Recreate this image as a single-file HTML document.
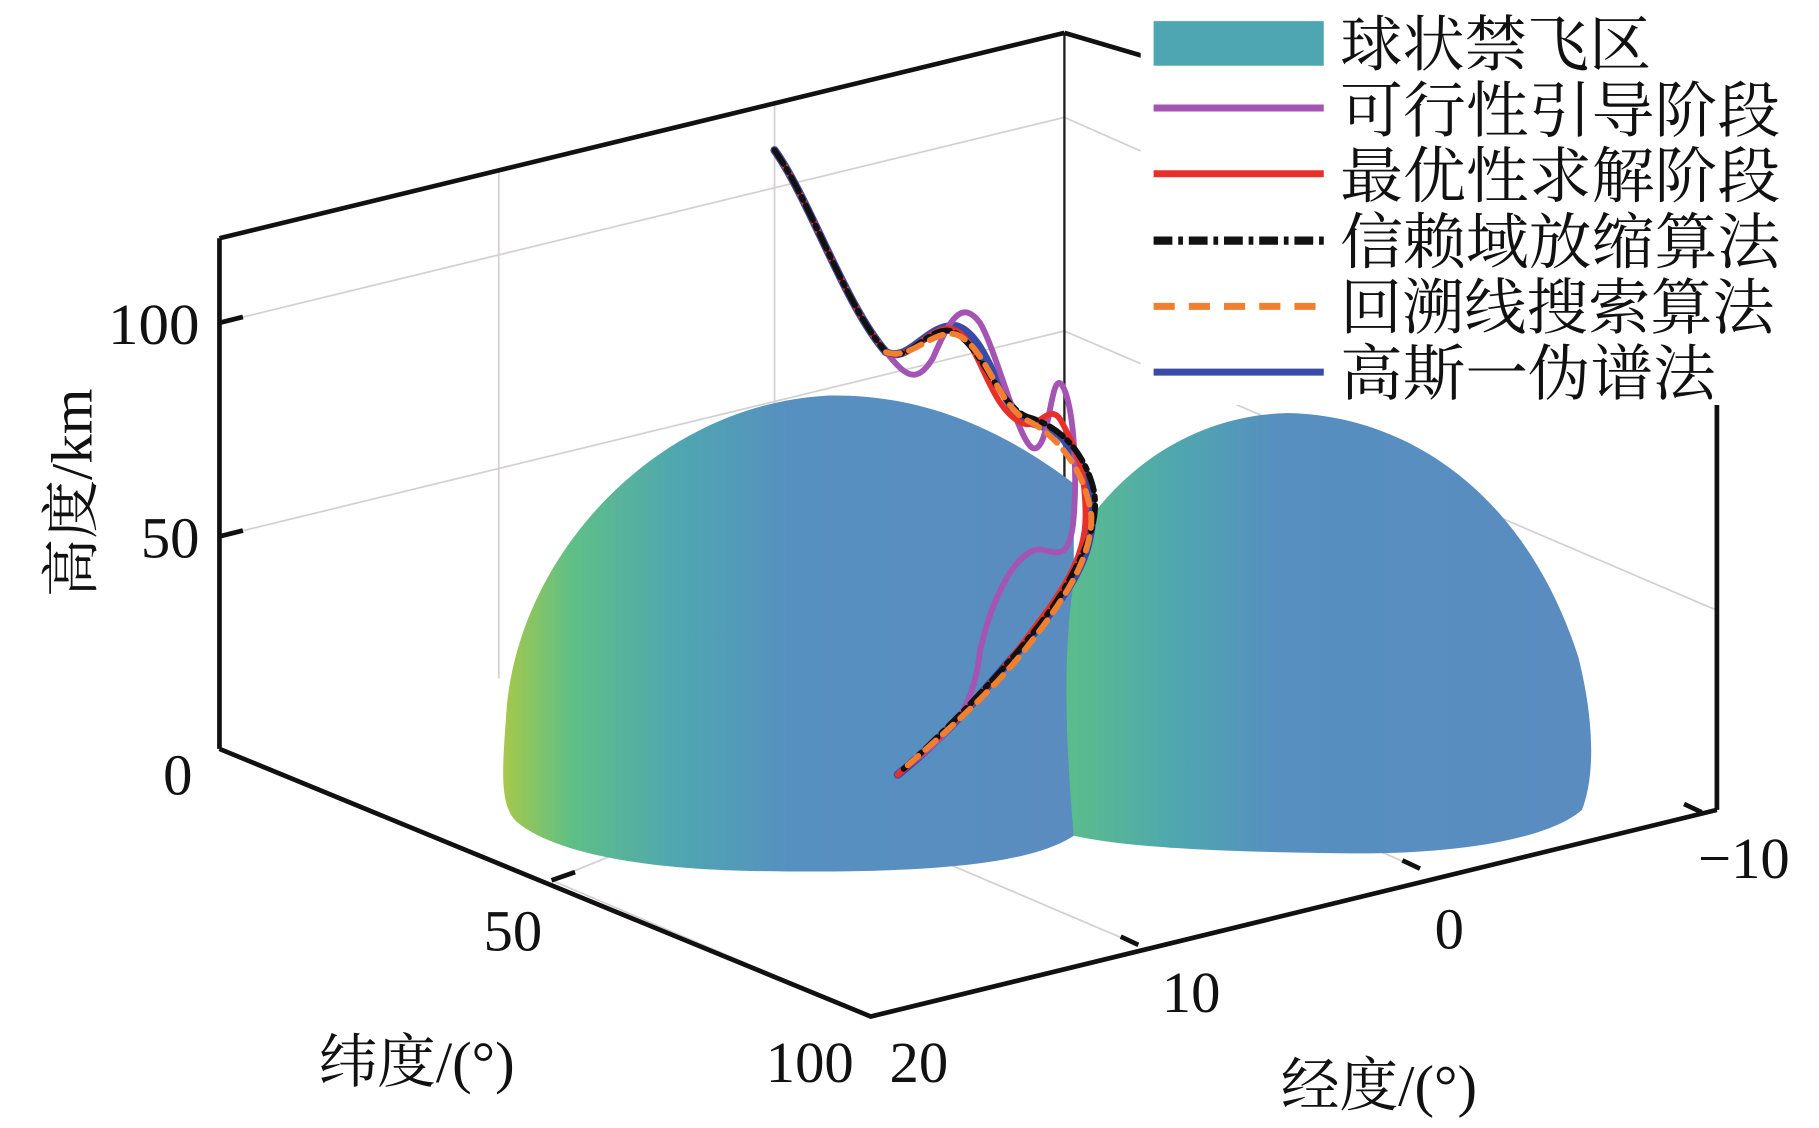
<!DOCTYPE html>
<html><head><meta charset="utf-8"><style>
html,body{margin:0;padding:0;background:#fff;}
svg{display:block;}
text{font-family:"Liberation Serif","Noto Serif CJK SC",serif;fill:#111;}
</style></head><body>
<svg width="1819" height="1128" viewBox="0 0 1550 961" preserveAspectRatio="none" xmlns="http://www.w3.org/2000/svg">
<defs>
<linearGradient id="gL" x1="0" y1="0" x2="1" y2="0">
<stop offset="0" stop-color="#a6c84a"/>
<stop offset="0.12" stop-color="#5fbf86"/>
<stop offset="0.3" stop-color="#4fa7b0"/>
<stop offset="0.5" stop-color="#5690c0"/>
<stop offset="1" stop-color="#5a8cc0"/>
</linearGradient>
<linearGradient id="gR" x1="0" y1="0" x2="1" y2="0">
<stop offset="0" stop-color="#5bbd8a"/>
<stop offset="0.2" stop-color="#4fa8ae"/>
<stop offset="0.4" stop-color="#568fc0"/>
<stop offset="1" stop-color="#5a8cc0"/>
</linearGradient>
</defs>
<g stroke="#d4d0d0" stroke-width="1.5" fill="none">
<line x1="425" y1="145" x2="425" y2="578"/>
<line x1="660" y1="88" x2="660" y2="520"/>
<line x1="187" y1="275" x2="907" y2="100"/>
<line x1="187" y1="457" x2="907" y2="282"/>
<line x1="907" y1="100" x2="1463" y2="345"/>
<line x1="907" y1="282" x2="1463" y2="520"/>
<line x1="470" y1="750" x2="907" y2="570"/>
<line x1="742" y1="866" x2="470" y2="750"/>
<line x1="970" y1="805" x2="700" y2="690"/>
<line x1="1210" y1="740" x2="940" y2="625"/>
</g>
<line x1="907" y1="28" x2="907" y2="520" stroke="#222" stroke-width="2"/>
<path d="M915,712 C880,735 800,745 640,742 C540,740 470,725 440,700 C425,685 428,655 432,600 C445,470 560,345 705,337 C790,335 860,370 915,412 Z" fill="url(#gL)"/>
<path d="M915,712 C905,600 905,500 930,440 C975,380 1040,352 1100,352 C1200,355 1300,420 1345,560 C1360,620 1358,665 1348,690 C1320,715 1240,728 1150,727 C1040,726 960,722 915,712 Z" fill="url(#gR)"/>
<g stroke="#111" stroke-width="4" fill="none">
<line x1="187" y1="203" x2="187" y2="638"/>
<line x1="187" y1="203" x2="907" y2="28"/>
<line x1="907" y1="28" x2="975" y2="48"/>
<line x1="1463" y1="345" x2="1463" y2="690"/>
<polyline points="187,638 742,866 1463,690"/>
<line x1="187" y1="275" x2="207" y2="270"/>
<line x1="187" y1="457" x2="207" y2="452"/>
<line x1="470" y1="750" x2="490" y2="743"/>
<line x1="970" y1="805" x2="955" y2="798"/>
<line x1="1210" y1="740" x2="1195" y2="733"/>
<line x1="1450" y1="692" x2="1435" y2="685"/>
</g>
<g fill="none" stroke-width="5" stroke-linecap="round" stroke-linejoin="round">
<path d="M660,128 C690,170 720,260 755,300 C775,310 790,275 815,278 C840,285 850,340 870,355 C880,365 900,360 910,380 C930,400 935,430 928,460 C920,500 880,540 850,575 C820,610 790,640 765,660" stroke="#3a4aa8" stroke-width="7"/>
<path d="M755,300 C770,318 780,330 795,305 C810,270 820,255 835,275 C850,300 870,385 882,382 C895,380 895,315 905,328 C915,345 918,400 915,440 C912,480 900,470 885,468 C865,470 845,510 835,555 C830,600 815,615 800,630 C785,645 775,650 765,660" stroke="#a455b4"/>
<path d="M660,128 C690,170 720,260 755,300 C775,310 790,278 810,280 C835,285 840,345 870,360 C885,368 895,340 905,360 C918,385 925,400 925,440 C925,480 900,510 870,550 C840,590 800,630 765,660" stroke="#e8302b"/>
<path d="M660,128 C690,170 720,260 755,300 C775,310 790,278 810,282 C835,290 850,345 875,355 C900,362 920,380 930,410 C940,440 925,470 905,505 C880,545 820,610 770,655" stroke="#111" stroke-dasharray="14,5,3,5"/>
<path d="M755,300 C775,308 795,280 815,285 C840,295 850,345 875,358 C900,370 925,400 930,440 C930,470 915,500 880,545 C850,585 810,620 770,655" stroke="#f08030" stroke-dasharray="12,8"/>
</g>
<rect x="972" y="0" width="575" height="345" fill="#fff"/>
<rect x="983" y="18" width="145" height="38" fill="#4ea6b2"/>
<line x1="983" y1="92" x2="1128" y2="92" stroke="#a455b4" stroke-width="6"/>
<line x1="983" y1="148" x2="1128" y2="148" stroke="#e8302b" stroke-width="6"/>
<line x1="983" y1="205" x2="1128" y2="205" stroke="#111" stroke-width="7" stroke-dasharray="16,5,4,5"/>
<line x1="983" y1="261" x2="1128" y2="261" stroke="#f08030" stroke-width="6" stroke-dasharray="18,12"/>
<line x1="983" y1="317" x2="1128" y2="317" stroke="#3a4aa8" stroke-width="6"/>
<g font-size="52">
<text x="1142" y="56" textLength="265" lengthAdjust="spacingAndGlyphs">球状禁飞区</text>
<text x="1142" y="112" textLength="375" lengthAdjust="spacingAndGlyphs">可行性引导阶段</text>
<text x="1142" y="168" textLength="375" lengthAdjust="spacingAndGlyphs">最优性求解阶段</text>
<text x="1142" y="224" textLength="375" lengthAdjust="spacingAndGlyphs">信赖域放缩算法</text>
<text x="1142" y="280" textLength="370" lengthAdjust="spacingAndGlyphs">回溯线搜索算法</text>
<text x="1142" y="336" textLength="320" lengthAdjust="spacingAndGlyphs">高斯一伪谱法</text>
</g>
<g font-size="50">
<text x="92" y="293" textLength="78" lengthAdjust="spacingAndGlyphs">100</text>
<text x="170" y="475" text-anchor="end">50</text>
<text x="164" y="677" text-anchor="end">0</text>
<text x="437" y="810" text-anchor="middle">50</text>
<text x="690" y="922" text-anchor="middle">100</text>
<text x="783" y="922" text-anchor="middle">20</text>
<text x="1015" y="862" text-anchor="middle">10</text>
<text x="1235" y="808" text-anchor="middle">0</text>
<text x="1486" y="748" text-anchor="middle">−10</text>
<text x="355" y="922" text-anchor="middle">纬度/(°)</text>
<text x="1175" y="942" text-anchor="middle">经度/(°)</text>
<text transform="translate(78,420) rotate(-90)" text-anchor="middle">高度/km</text>
</g>
</svg>
</body></html>
